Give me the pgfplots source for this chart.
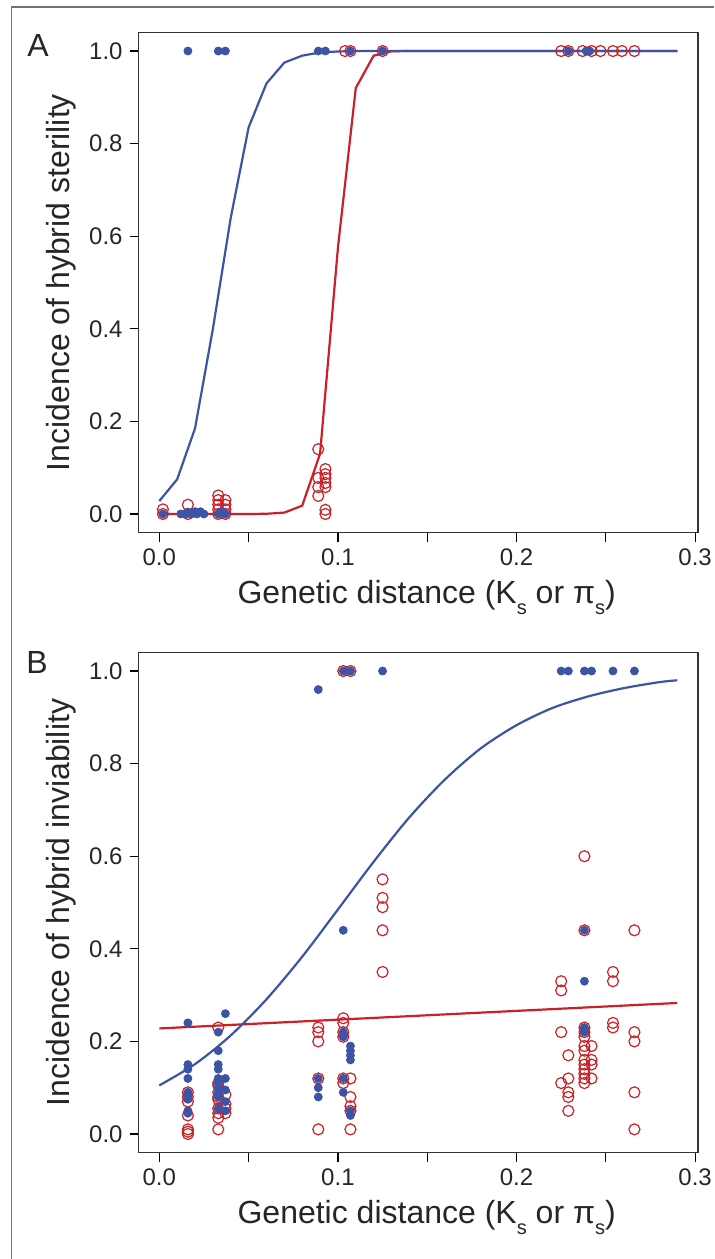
\documentclass[border=0pt]{standalone}
\usepackage{fontspec}
\setmainfont{Liberation Sans}
\usepackage{pgfplots}
\usepackage{pgfplotstable}
\pgfplotsset{compat=1.18}

\definecolor{fitblue}{RGB}{59,84,165}
\definecolor{fitred}{RGB}{204,32,39}
\newcommand\sub[1]{\raisebox{-0.6ex}{\fontsize{10}{10}\selectfont #1}}

% panel A: sterility
\pgfplotstableread{
x y
0.002 0.0
0.002 0.01
0.016 0.0
0.016 0.02
0.033 0.0
0.033 0.01
0.033 0.02
0.033 0.03
0.033 0.04
0.037 0.0
0.037 0.01
0.037 0.02
0.037 0.03
0.089 0.14
0.089 0.078
0.089 0.058
0.089 0.039
0.093 0.097
0.093 0.086
0.093 0.078
0.093 0.067
0.093 0.058
0.093 0.009
0.093 0.0
0.104 1
0.107 1
0.125 1
0.225 1
0.229 1
0.237 1
0.242 1
0.247 1
0.254 1
0.259 1
0.266 1
}\sterRed
\pgfplotstableread{
x y
0.002 0
0.012 0
0.015 0
0.016 0.004
0.018 0
0.020 0.005
0.021 0
0.023 0.005
0.025 0
0.033 0
0.035 0.005
0.037 0
0.016 1
0.033 1
0.037 1
0.089 1
0.093 1
0.107 1
0.125 1
0.229 1
0.239 1
0.241 1
}\sterBlue
\pgfplotstableread{
x y
0.00 0.028
0.01 0.075
0.02 0.185
0.03 0.40
0.04 0.64
0.05 0.835
0.06 0.93
0.07 0.975
0.08 0.99
0.09 0.997
0.10 0.999
0.11 1
0.29 1
}\sterBlueFit
\pgfplotstableread{
x y
0.00 0
0.05 0
0.06 0.0005
0.07 0.003
0.08 0.018
0.09 0.13
0.10 0.575
0.11 0.92
0.12 0.99
0.13 0.9995
0.14 1
0.29 1
}\sterRedFit

% panel B: inviability
\pgfplotstableread{
x y
0.016 0.09
0.016 0.08
0.016 0.07
0.016 0.04
0.016 0.01
0.016 0.005
0.016 0.0
0.033 0.23
0.033 0.11
0.033 0.105
0.033 0.09
0.033 0.08
0.033 0.075
0.033 0.055
0.033 0.045
0.033 0.035
0.033 0.01
0.037 0.085
0.037 0.065
0.037 0.055
0.037 0.045
0.089 0.23
0.089 0.22
0.089 0.20
0.089 0.12
0.089 0.01
0.103 1.0
0.103 0.25
0.103 0.24
0.103 0.22
0.103 0.21
0.103 0.12
0.103 0.11
0.107 1.0
0.107 0.12
0.107 0.08
0.107 0.06
0.107 0.05
0.107 0.01
0.125 0.55
0.125 0.51
0.125 0.49
0.125 0.44
0.125 0.35
0.225 0.33
0.225 0.31
0.225 0.22
0.225 0.11
0.229 0.17
0.229 0.12
0.229 0.09
0.229 0.08
0.229 0.05
0.238 0.60
0.238 0.44
0.238 0.23
0.238 0.22
0.238 0.21
0.238 0.19
0.238 0.18
0.238 0.16
0.238 0.15
0.238 0.14
0.238 0.13
0.238 0.12
0.238 0.11
0.242 0.19
0.242 0.16
0.242 0.15
0.242 0.12
0.254 0.35
0.254 0.33
0.254 0.24
0.254 0.23
0.266 0.44
0.266 0.22
0.266 0.20
0.266 0.09
0.266 0.01
}\invRed
\pgfplotstableread{
x y
0.016 0.24
0.016 0.15
0.016 0.14
0.016 0.12
0.016 0.09
0.016 0.085
0.016 0.08
0.016 0.075
0.016 0.05
0.016 0.045
0.033 0.22
0.033 0.18
0.033 0.15
0.033 0.14
0.033 0.12
0.033 0.11
0.033 0.10
0.033 0.09
0.033 0.085
0.033 0.08
0.033 0.055
0.037 0.26
0.037 0.12
0.037 0.095
0.037 0.07
0.037 0.05
0.089 0.96
0.089 0.12
0.089 0.10
0.089 0.08
0.103 1.0
0.103 0.44
0.103 0.22
0.103 0.21
0.103 0.12
0.103 0.09
0.107 1.0
0.107 0.19
0.107 0.18
0.107 0.17
0.107 0.16
0.107 0.05
0.107 0.04
0.125 1.0
0.225 1.0
0.229 1.0
0.238 1.0
0.242 1.0
0.254 1.0
0.266 1.0
0.238 0.44
0.238 0.33
0.238 0.23
0.238 0.22
}\invBlue
\pgfplotstableread{
x y
0.00 0.105
0.02 0.151
0.04 0.213
0.06 0.291
0.08 0.383
0.10 0.485
0.12 0.588
0.14 0.684
0.16 0.766
0.18 0.833
0.20 0.883
0.22 0.920
0.24 0.945
0.26 0.963
0.28 0.976
0.29 0.980
}\invBlueFit
\pgfplotstableread{
x y
0.00 0.228
0.29 0.283
}\invRedFit

\pgfplotsset{
  panel/.style={
    scale only axis, width=279.7pt, height=250pt,
    xmin=-0.0116, xmax=0.3016, ymin=-0.04, ymax=1.04,
    axis line style={black!80, line width=0.6pt},
    tick align=outside, major tick length=4.5pt,
    tick style={black, line width=0.6pt},
    xtick pos=left, ytick pos=left,
    xtick={0,0.05,0.1,0.15,0.2,0.25,0.3},
    xticklabels={0.0,,0.1,,0.2,,0.3},
    ytick={0,0.2,0.4,0.6,0.8,1},
    yticklabels={0.0,0.2,0.4,0.6,0.8,1.0},
    ticklabel style={font=\fontsize{12}{14}\selectfont, text=black!85},
    label style={font=\fontsize{16}{19}\selectfont, text=black!85},
    xlabel={Genetic distance (K\sub{s} or π\sub{s})},
    xlabel style={at={(axis description cs:0.515,-0.13)}, anchor=center},
    ylabel style={at={(axis description cs:-0.138,0.5)}, anchor=center},
  },
  redpts/.style={only marks, mark=o, mark size=2.75pt, fitred, line width=0.6pt},
  bluepts/.style={only marks, mark=*, mark size=2pt, fitblue, line width=0.4pt},
  fitline/.style={no marks, line width=1.1pt},
}

\begin{document}
\begin{tikzpicture}
\useasboundingbox (0,0) rectangle (357pt,-629.5pt);
\draw[black!55, line width=0.6pt] (5.7pt,-629.5pt) -- (5.7pt,-3.5pt) -- (357pt,-3.5pt);

\begin{axis}[panel, at={(69.3pt,-266.25pt)}, anchor=south west,
    ylabel={Incidence of hybrid sterility}]
\addplot[redpts] table {\sterRed};
\addplot[bluepts] table {\sterBlue};
\addplot[fitline, fitred] table {\sterRedFit};
\addplot[fitline, fitblue] table {\sterBlueFit};
\end{axis}

\begin{axis}[panel, at={(69.3pt,-576.25pt)}, anchor=south west,
    ylabel={Incidence of hybrid inviability}]
\addplot[redpts] table {\invRed};
\addplot[bluepts] table {\invBlue};
\addplot[fitline, fitred] table {\invRedFit};
\addplot[fitline, fitblue, smooth] table {\invBlueFit};
\end{axis}

\node[font=\fontsize{16}{19}\selectfont, text=black!85] at (19pt,-22.5pt) {A};
\node[font=\fontsize{16}{19}\selectfont, text=black!85] at (18.5pt,-331pt) {B};
\end{tikzpicture}
\end{document}
